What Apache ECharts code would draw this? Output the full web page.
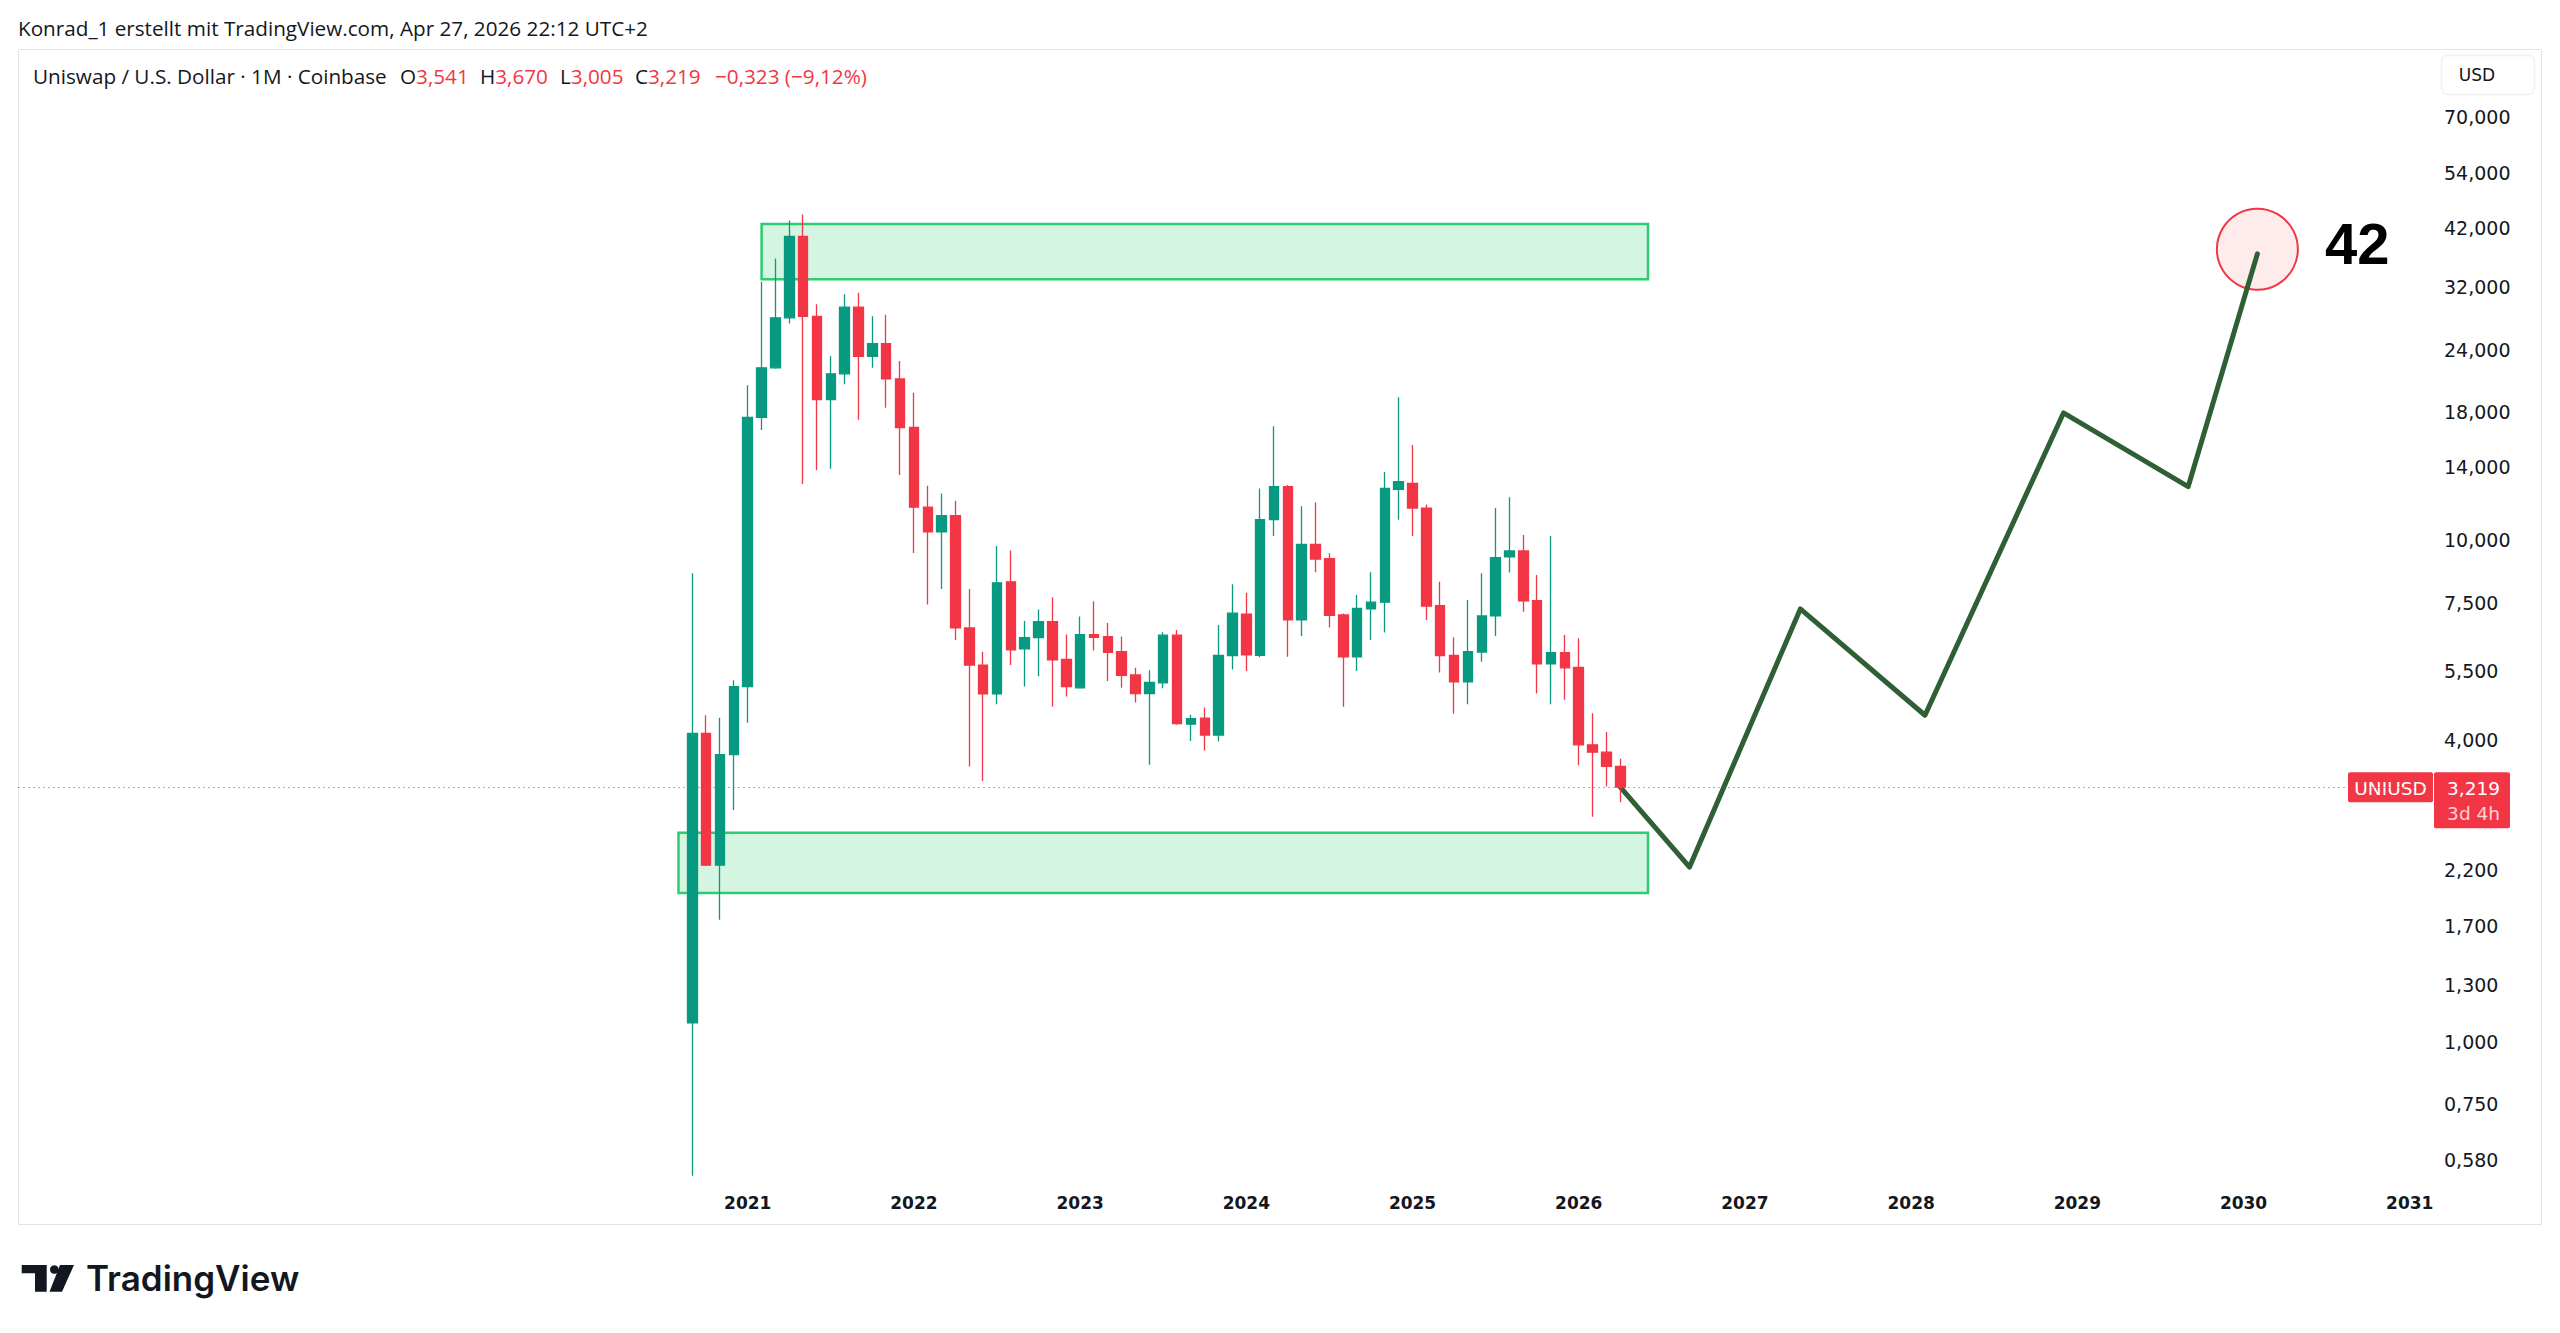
<!DOCTYPE html>
<html><head><meta charset="utf-8">
<script src="https://cdn.jsdelivr.net/npm/echarts@6/dist/echarts.min.js"></script>
<style>html,body{margin:0;padding:0;background:#fff}#c{width:2560px;height:1333px}</style>
</head><body><div id="c"></div>
<script>
// ---- data ----
const months = [
 '2020-09','2020-10','2020-11','2020-12',
 '2021-01','2021-02','2021-03','2021-04','2021-05','2021-06','2021-07','2021-08','2021-09','2021-10','2021-11','2021-12',
 '2022-01','2022-02','2022-03','2022-04','2022-05','2022-06','2022-07','2022-08','2022-09','2022-10','2022-11','2022-12',
 '2023-01','2023-02','2023-03','2023-04','2023-05','2023-06','2023-07','2023-08','2023-09','2023-10','2023-11','2023-12',
 '2024-01','2024-02','2024-03','2024-04','2024-05','2024-06','2024-07','2024-08','2024-09','2024-10','2024-11','2024-12',
 '2025-01','2025-02','2025-03','2025-04','2025-05','2025-06','2025-07','2025-08','2025-09','2025-10','2025-11','2025-12',
 '2026-01','2026-02','2026-03','2026-04'];
const opens = [
 1.09, 4.12, 2.25, 3.74,
 5.11, 17.6, 22.1, 27.8, 40.4, 28.0, 19.1, 21.5, 29.2, 23.3, 24.7, 21.0,
 16.8, 11.65, 10.4, 11.2, 6.69, 5.64, 4.94, 8.27, 6.08, 6.40, 6.89, 5.79,
 5.08, 6.49, 6.43, 6.0, 5.39, 4.95, 5.20, 6.47, 4.30, 4.42, 4.09, 5.89,
 7.13, 5.90, 11.0, 12.8, 6.94, 9.82, 9.2, 7.1, 5.86, 7.30, 7.53, 12.65,
 13.0, 11.6, 7.41, 5.9, 5.22, 5.99, 7.07, 9.27, 9.53, 7.58, 5.67, 5.97,
 5.58, 3.91, 3.78, 3.541];
const highs = [
 8.6, 4.48, 4.43, 5.26,
 20.4, 32.8, 36.5, 43.5, 44.7, 29.6, 23.3, 31.0, 31.2, 28.0, 28.2, 22.8,
 19.7, 12.85, 12.4, 12.0, 8.0, 6.0, 9.75, 9.55, 6.91, 7.28, 7.70, 6.49,
 7.05, 7.56, 6.84, 6.43, 5.57, 5.51, 6.56, 6.63, 4.49, 4.64, 6.78, 8.18,
 7.86, 12.7, 16.9, 12.9, 11.7, 11.9, 9.43, 7.15, 7.78, 8.64, 13.7, 19.3,
 15.5, 11.8, 8.27, 6.41, 7.61, 8.60, 11.6, 12.2, 10.25, 8.53, 10.2, 6.48,
 6.38, 4.52, 4.15, 3.670];
const lows = [
 0.54, 2.24, 1.75, 2.90,
 4.33, 16.6, 22.0, 27.1, 12.96, 13.8, 13.9, 20.5, 17.4, 22.1, 18.4, 13.5,
 9.44, 7.45, 8.0, 6.33, 3.54, 3.31, 4.71, 5.64, 5.11, 5.36, 4.66, 4.88,
 5.07, 6.03, 5.24, 5.08, 4.75, 3.57, 5.07, 4.29, 3.98, 3.81, 3.97, 5.53,
 5.49, 5.85, 10.2, 5.86, 6.45, 8.64, 6.70, 4.66, 5.49, 6.33, 6.55, 11.0,
 10.2, 6.94, 5.45, 4.51, 4.71, 5.73, 6.45, 8.63, 7.21, 4.95, 4.71, 4.81,
 3.56, 2.81, 3.23, 3.005];
const closes = [
 4.12, 2.25, 3.74, 5.11,
 17.6, 22.1, 27.8, 40.4, 28.0, 19.1, 21.5, 29.2, 23.3, 24.7, 21.0, 16.8,
 11.65, 10.4, 11.2, 6.69, 5.64, 4.94, 8.23, 6.05, 6.40, 6.89, 5.78, 5.11,
 6.49, 6.41, 5.98, 5.38, 4.95, 5.21, 6.47, 4.31, 4.41, 4.09, 5.90, 7.16,
 5.91, 11.0, 12.8, 6.94, 9.82, 9.18, 7.09, 5.86, 7.32, 7.53, 12.7, 13.1,
 11.6, 7.40, 5.89, 5.22, 6.0, 7.07, 9.24, 9.53, 7.58, 5.67, 5.97, 5.57,
 3.91, 3.78, 3.541, 3.219];

const yearLabels = [2021, 2022, 2023, 2024, 2025, 2026, 2027, 2028, 2029, 2030, 2031];
const priceTicks = [70, 54, 42, 32, 24, 18, 14, 10, 7.5, 5.5, 4, 2.2, 1.7, 1.3, 1, 0.75, 0.58];

const projectionMonths = ['2026-04', '2026-09', '2027-05', '2028-02', '2028-12', '2029-09', '2030-02'];
const projectionValues = [3.219, 2.23, 7.30, 4.48, 17.96, 12.8, 37.3];

const zoneUpperMonths = ['2021-02', '2026-06'];
const zoneUpperValues = [33.2, 42.8];
const zoneLowerMonths = ['2020-08', '2026-06'];
const zoneLowerValues = [1.98, 2.61];

const targetMonth = '2030-02';
const targetValue = 38.1;
const targetText = '42';

const lastClose = closes[closes.length - 1];

// ---- helpers ----
function mIdx(s) { return (parseInt(s.slice(0, 4), 10) - 2021) * 12 + parseInt(s.slice(5, 7), 10) - 1; }
function deNum(v, d) { return v.toFixed(d).replace('.', ','); }

const FONT = 'DejaVu Sans';
const HFONT = '20.7px "Open Sans"';
const TXT = '#131722';
const UP = '#089981', DOWN = '#f23645';

const candleData = months.map((m, i) => [mIdx(m), opens[i], closes[i], lows[i], highs[i]]);
const projData = projectionMonths.map((m, i) => [mIdx(m), projectionValues[i]]);

const chart = echarts.init(document.getElementById('c'), null, { renderer: 'svg' });

const option = {
  backgroundColor: '#ffffff',
  animation: false,
  grid: { left: 18, right: 127, top: 50, bottom: 151, containLabel: false },
  xAxis: {
    type: 'value', min: -52.69, max: 121.68,
    splitLine: { show: false }, axisLine: { show: false }, axisTick: { show: false },
    axisLabel: {
      customValues: yearLabels.map(y => (y - 2021) * 12),
      formatter: v => String(2021 + Math.round(v / 12)),
      fontFamily: FONT, fontWeight: 'bold', fontSize: 17, color: TXT, margin: 12
    }
  },
  yAxis: {
    type: 'log', logBase: 10, position: 'right', min: 0.5249, max: 95.15,
    splitLine: { show: false }, axisLine: { show: false }, axisTick: { show: false },
    axisLabel: {
      customValues: priceTicks,
      formatter: v => deNum(v, 3),
      fontFamily: FONT, fontSize: 19, color: TXT, align: 'left', margin: 11
    }
  },
  series: [
    {
      type: 'scatter', z: 1,
      data: [[mIdx(targetMonth), targetValue]],
      symbol: 'circle', symbolSize: 81,
      itemStyle: { color: 'rgba(242,54,69,0.10)', borderColor: '#f23645', borderWidth: 2, opacity: 1 },
      label: { show: true, position: 'right', distance: 26, offset: [0, -6], formatter: targetText,
        fontFamily: 'Liberation Sans', fontWeight: 'bold', fontSize: 58, color: '#000000' }
    },
    {
      type: 'line', z: 2,
      data: projData, symbol: 'none', smooth: false,
      lineStyle: { color: '#2f5f35', width: 5, cap: 'round', join: 'round' }
    },
    {
      type: 'candlestick', z: 3,
      data: candleData,
      barWidth: 10,
      itemStyle: { color: UP, color0: DOWN, borderColor: UP, borderColor0: DOWN, borderWidth: 1.3 },
      markArea: {
        silent: true,
        itemStyle: { color: 'rgba(46,204,113,0.2)', borderColor: '#2ecc71', borderWidth: 2.5 },
        data: [
          [{ coord: [mIdx(zoneUpperMonths[0]), zoneUpperValues[1]] }, { coord: [mIdx(zoneUpperMonths[1]), zoneUpperValues[0]] }],
          [{ coord: [mIdx(zoneLowerMonths[0]), zoneLowerValues[1]] }, { coord: [mIdx(zoneLowerMonths[1]), zoneLowerValues[0]] }]
        ]
      },
      markLine: {
        silent: true, symbol: 'none',
        label: { show: false },
        lineStyle: { type: [2, 3], color: 'rgba(242,54,69,0.55)', width: 1 },
        data: [{ yAxis: lastClose }]
      }
    }
  ]
};
chart.setOption(option);

const yPix = chart.convertToPixel({ yAxisIndex: 0 }, lastClose);

chart.setOption({
  graphic: [
    { type: 'rect', z: 0, silent: true, shape: { x: 18.5, y: 49.5, width: 2523, height: 1175 },
      style: { fill: 'none', stroke: '#e0e3eb', lineWidth: 1 } },
    { type: 'text', x: 18, y: 28, silent: true,
      style: { text: 'Konrad_1 erstellt mit TradingView.com, Apr 27, 2026 22:12 UTC+2', fill: TXT,
        font: HFONT, textVerticalAlign: 'middle' } },
    { type: 'text', x: 33, y: 76, silent: true,
      style: { text: 'Uniswap / U.S. Dollar · 1M · Coinbase', fill: TXT, font: HFONT, textVerticalAlign: 'middle' } },
    { type: 'text', x: 400, y: 76, silent: true,
      style: { text: 'O{r|' + deNum(opens[opens.length - 1], 3) + '}', fill: TXT, font: HFONT, textVerticalAlign: 'middle',
        rich: { r: { fill: DOWN, font: HFONT } } } },
    { type: 'text', x: 480, y: 76, silent: true,
      style: { text: 'H{r|' + deNum(highs[highs.length - 1], 3) + '}', fill: TXT, font: HFONT, textVerticalAlign: 'middle',
        rich: { r: { fill: DOWN, font: HFONT } } } },
    { type: 'text', x: 560, y: 76, silent: true,
      style: { text: 'L{r|' + deNum(lows[lows.length - 1], 3) + '}', fill: TXT, font: HFONT, textVerticalAlign: 'middle',
        rich: { r: { fill: DOWN, font: HFONT } } } },
    { type: 'text', x: 635, y: 76, silent: true,
      style: { text: 'C{r|' + deNum(lastClose, 3) + '}', fill: TXT, font: HFONT, textVerticalAlign: 'middle',
        rich: { r: { fill: DOWN, font: HFONT } } } },
    { type: 'text', x: 715, y: 76, silent: true,
      style: { text: '\u22120,323 (\u22129,12%)', fill: DOWN, font: HFONT, textVerticalAlign: 'middle' } },
    // USD button
    { type: 'rect', silent: true, shape: { x: 2441.5, y: 55.5, width: 93, height: 39, r: 6 },
      style: { fill: '#ffffff', stroke: '#eef0f3', lineWidth: 1.5 } },
    { type: 'text', x: 2477, y: 75, silent: true,
      style: { text: 'USD', fill: TXT, font: '17px "DejaVu Sans"', textAlign: 'center', textVerticalAlign: 'middle' } },
    // last price labels
    { type: 'rect', silent: true, shape: { x: 2348, y: yPix - 15, width: 85, height: 30, r: 2 }, style: { fill: DOWN } },
    { type: 'text', x: 2390.5, y: yPix + 1, silent: true,
      style: { text: 'UNIUSD', fill: '#ffffff', font: '18.5px "DejaVu Sans"', textAlign: 'center', textVerticalAlign: 'middle' } },
    { type: 'rect', silent: true, shape: { x: 2434, y: yPix - 15, width: 76, height: 56, r: 2 }, style: { fill: DOWN } },
    { type: 'text', x: 2500, y: yPix + 1, silent: true,
      style: { text: deNum(lastClose, 3), fill: '#ffffff', font: '18.5px "DejaVu Sans"', textAlign: 'right', textVerticalAlign: 'middle' } },
    { type: 'text', x: 2500, y: yPix + 26, silent: true,
      style: { text: '3d 4h', fill: 'rgba(255,255,255,0.78)', font: '18.5px "DejaVu Sans"', textAlign: 'right', textVerticalAlign: 'middle' } },
    // TradingView logo
    { type: 'polygon', silent: true, shape: { points: [[21.7, 1265], [46.7, 1265], [46.7, 1291.7], [35, 1291.7], [35, 1273.3], [21.7, 1273.3]] }, style: { fill: '#131722' } },
    { type: 'circle', silent: true, shape: { cx: 54.3, cy: 1269.5, r: 4.3 }, style: { fill: '#131722' } },
    { type: 'polygon', silent: true, shape: { points: [[60, 1265], [74, 1265], [62, 1291.7], [49.5, 1291.7]] }, style: { fill: '#131722' } },
    { type: 'text', x: 86, y: 1278, silent: true,
      style: { text: 'TradingView', fill: '#131722', font: '600 35px Inter', textVerticalAlign: 'middle' } }
  ]
});
</script>
</body></html>
